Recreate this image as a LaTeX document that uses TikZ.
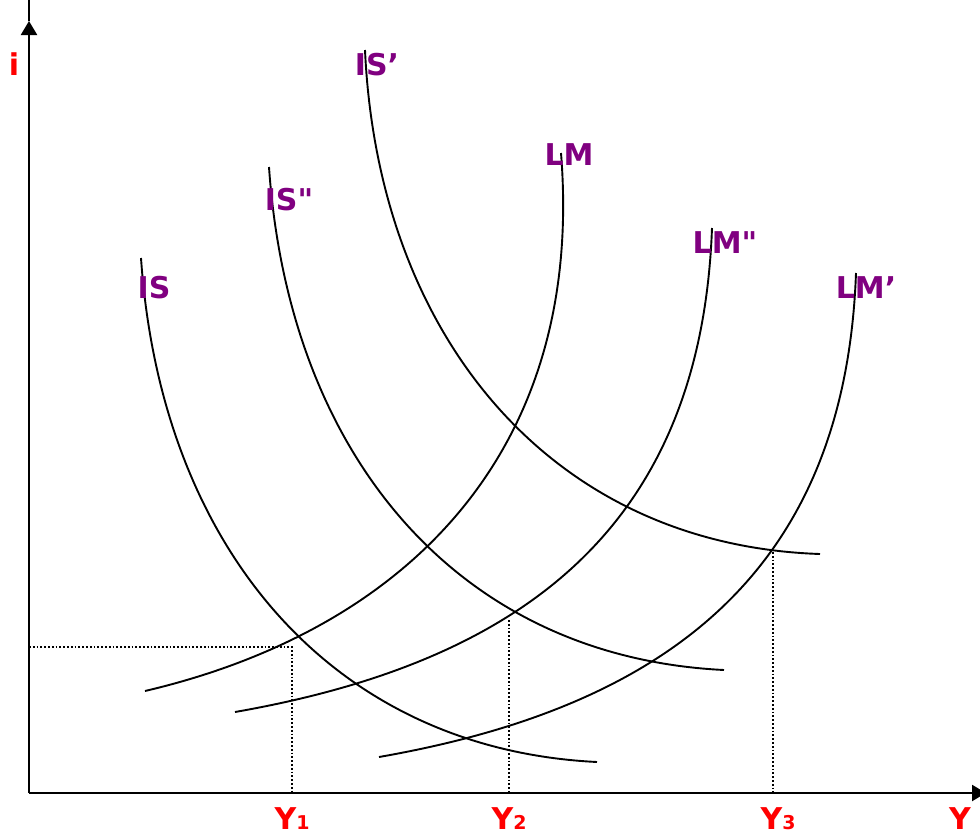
\documentclass[tikz,border=0pt]{standalone}
\usepackage{fontspec}
\setmainfont{DejaVu Sans}
\newfontfamily\plainfont{DejaVu Sans}[Ligatures=TeXOff]
\usetikzlibrary{arrows.meta}
\definecolor{labpurple}{RGB}{128,0,128}
\newcommand{\dq}{{\plainfont\bfseries"}}
\begin{document}
\begin{tikzpicture}[x=1pt,y=-1pt,
  curve/.style={line width=1.9pt, black},
  axis/.style={line width=2.2pt, black},
  guide/.style={line width=1.8pt, dash pattern=on 1.8pt off 2pt},
  tip/.style={-{Triangle[length=14pt,width=16pt]}},
  curvelabel/.style={text=labpurple, font=\fontsize{30}{30}\selectfont\bfseries, anchor=base, inner sep=0pt},
  axlabel/.style={text=red, font=\fontsize{30}{30}\selectfont\bfseries, anchor=base, inner sep=0pt}]
\useasboundingbox (0,0) rectangle (980,835);
\clip (0,0) rectangle (980,835);

% axes
\coordinate (O) at (29,793);
\coordinate (ytip) at (29,21);
\coordinate (ytop) at (29,0);
\coordinate (xtip) at (986,793);
\draw[axis,tip] (O) -- (ytip);
\draw[axis] (ytip) -- (ytop);
\draw[axis,tip] (O) -- (xtip);

% equilibrium guides
\coordinate (e1) at (292,647);
\coordinate (e1i) at (29,647);
\coordinate (e1y) at (292,793);
\coordinate (e2) at (509,620);
\coordinate (e2y) at (509,793);
\coordinate (e3) at (773,552);
\coordinate (e3y) at (773,793);
\draw[guide] (e1i) -- (e1) -- (e1y);
\draw[guide] (e2) -- (e2y);
\draw[guide] (e3) -- (e3y);

% IS curves
\coordinate (IS0) at (141,258);   \coordinate (IS1) at (597,762);
\coordinate (ISpp0) at (269,167); \coordinate (ISpp1) at (724,670);
\coordinate (ISp0) at (365,50);   \coordinate (ISp1) at (820,554);
\draw[curve] (IS0) .. controls (161,548) and (332,749) .. (IS1);
\draw[curve] (ISpp0) .. controls (289,457) and (459,657) .. (ISpp1);
\draw[curve] (ISp0) .. controls (378,335) and (550,545) .. (ISp1);

% LM curves
\coordinate (LM0) at (145,691);   \coordinate (LM1) at (561,153);
\coordinate (LMpp0) at (235,712); \coordinate (LMpp1) at (712,228);
\coordinate (LMp0) at (379,757);  \coordinate (LMp1) at (856,273);
\draw[curve] (LM0) .. controls (405,630) and (585,453) .. (LM1);
\draw[curve] (LMpp0) .. controls (521,662) and (701,528) .. (LMpp1);
\draw[curve] (LMp0) .. controls (665,707) and (845,573) .. (LMp1);

% curve labels
\node[curvelabel] (lIS) at (154,298) {IS};
\node[curvelabel] (lISpp) at (289,210) {IS\dq};
\node[curvelabel] (lISp) at (377,75) {IS'};
\node[curvelabel] (lLM) at (569,165) {LM};
\node[curvelabel] (lLMpp) at (725,253) {LM\dq};
\node[curvelabel] (lLMp) at (866,298) {LM'};

% axis labels
\node[axlabel] (li) at (14,75) {i};
\node[axlabel] (lY) at (960,829) {Y};
\node[axlabel] (lY1) at (292,829) {Y{\fontsize{19}{19}\selectfont 1}};
\node[axlabel] (lY2) at (509,829) {Y{\fontsize{19}{19}\selectfont 2}};
\node[axlabel] (lY3) at (778,829) {Y{\fontsize{19}{19}\selectfont 3}};
\end{tikzpicture}
\end{document}
